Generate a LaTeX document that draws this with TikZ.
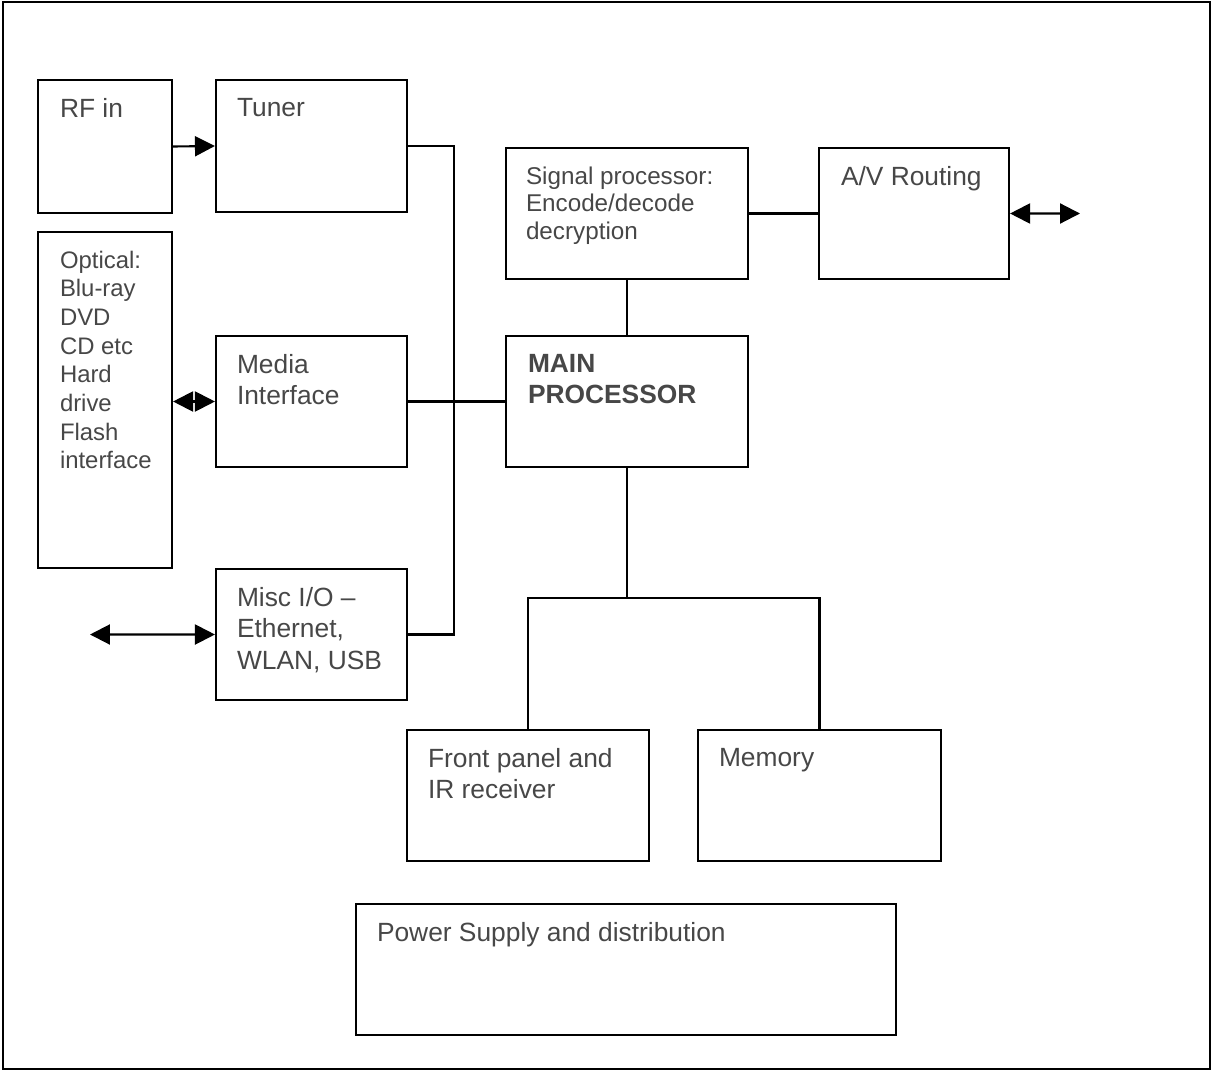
\documentclass[tikz,border=0pt]{standalone}
\usepackage{fontspec}
\setmainfont{Liberation Sans}
\usetikzlibrary{arrows.meta,fit}
\begin{document}
\begin{tikzpicture}[x=0.02cm,y=-0.02cm,line width=1.2pt,line join=miter,
  blk/.style={draw,inner sep=0pt},
  lbl/.style={anchor=north west,inner sep=0pt,align=left,text=black!72,
    font=\fontsize{15}{17.9}\selectfont},
  tip/.style={-{Triangle[length=0.4cm,width=0.4cm]}},
  dtip/.style={{Triangle[length=0.4cm,width=0.4cm]}-{Triangle[length=0.4cm,width=0.4cm]}}]
  \useasboundingbox (0,0) rectangle (1212,1071);
  \draw (3,2) rectangle (1210,1069);

  \node[blk,fit={(38,80) (172,213)}] (rf) {};
  \node[blk,fit={(216,80) (407,212)}] (tuner) {};
  \node[blk,fit={(38,232) (172,568)}] (optical) {};
  \node[blk,fit={(216,336) (407,467)}] (media) {};
  \node[blk,fit={(216,569) (407,700)}] (misc) {};
  \node[blk,fit={(506,148) (748,279)}] (signal) {};
  \node[blk,fit={(819,148) (1009,279)}] (av) {};
  \node[blk,fit={(506,336) (748,467)}] (main) {};
  \node[blk,fit={(407,730) (649,861)}] (front) {};
  \node[blk,fit={(698,730) (941,861)}] (memory) {};
  \node[blk,fit={(356,904) (896,1035)}] (power) {};

  \node[lbl] (rf-t) at ([shift={(22,18)}]rf.north west) {RF in};
  \node[lbl] (tuner-t) at ([shift={(21,18)}]tuner.north west) {Tuner};
  \node[lbl,font=\fontsize{13.6}{16.3}\selectfont] (optical-t) at ([shift={(22,19)}]optical.north west)
    {Optical:\\Blu-ray\\DVD\\CD etc\\Hard\\drive\\Flash\\interface};
  \node[lbl] (media-t) at ([shift={(21,18)}]media.north west) {Media\\Interface};
  \node[lbl] (misc-t) at ([shift={(21,18)}]misc.north west) {Misc I/O --\\Ethernet,\\WLAN, USB};
  \node[lbl,font=\fontsize{13.8}{15.6}\selectfont] (signal-t) at ([shift={(20,19)}]signal.north west)
    {Signal processor:\\Encode/decode\\decryption};
  \node[lbl] (av-t) at ([shift={(22,18)}]av.north west) {A/V Routing};
  \node[lbl,font=\fontsize{15}{17.9}\selectfont\bfseries] (main-t) at ([shift={(22,18)}]main.north west)
    {MAIN\\PROCESSOR};
  \node[lbl] (front-t) at ([shift={(21,18)}]front.north west) {Front panel and\\IR receiver};
  \node[lbl] (memory-t) at ([shift={(21,18)}]memory.north west) {Memory};
  \node[lbl] (power-t) at ([shift={(21,18)}]power.north west) {Power Supply and distribution};

  \coordinate (avout) at (1080,213.5);
  \coordinate (miscin) at (90,634.5);

  \draw[tip] (rf.east) -- (tuner.west);
  \draw[dtip] (optical.east |- media.west) -- (media.west);
  \draw[dtip] (miscin) -- (misc.west);
  \draw[dtip] (av.east) -- (avout);

  \draw (tuner.east) -- ++(46,0) |- (misc.east);
  \draw (media.east) -- (main.west);
  \draw (signal.south) -- (main.north);
  \draw (signal.east) -- (av.west);
  \draw (main.south) -- ++(0,130) coordinate (split);
  \draw (front.north) |- (split) -| (memory.north);
\end{tikzpicture}
\end{document}
